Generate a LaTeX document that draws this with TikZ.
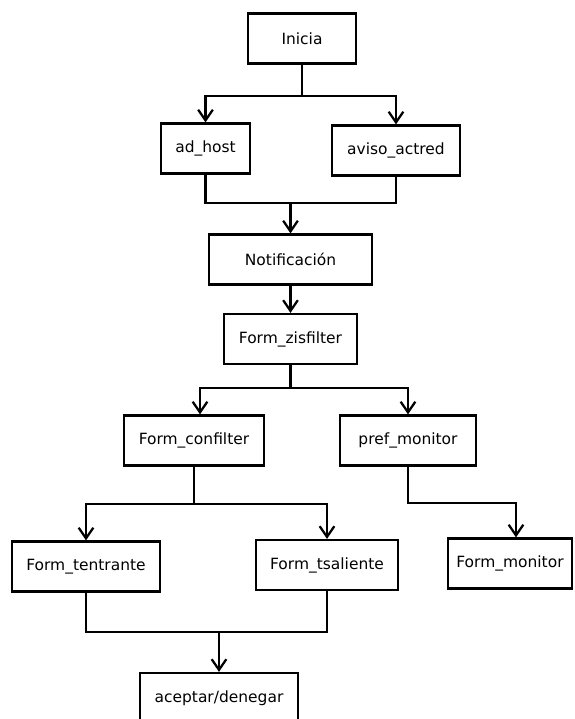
\documentclass[tikz,border=0pt]{standalone}
\usepackage{fontspec}
\setmainfont{DejaVu Sans}
\usetikzlibrary{arrows.meta}

\begin{document}
\begin{tikzpicture}[x=0.75pt,y=-0.75pt,
  caja/.style={draw, line width=1.7pt, minimum height=37.5pt, inner sep=0pt, font=\fontsize{11.6}{13}\selectfont},
  flecha/.style={-{Straight Barb[length=8pt,width=11pt]}, line width=1.7pt},
  linea/.style={line width=1.7pt}]
\useasboundingbox (0,0) rectangle (575,719);

\node (inicia) at (302,38.5) [caja, minimum width=81pt] {Inicia};
\node (adhost) at (205.5,148.5) [caja, minimum width=66.75pt] {ad\_host};
\node (aviso) at (396,150.5) [caja, minimum width=96pt] {aviso\_actred};
\node (notif) at (290.5,259.5) [caja, minimum width=122.25pt] {Notificación};
\node (zis) at (290.5,339) [caja, minimum width=99.75pt] {Form\_zisfilter};
\node (confilter) at (194,440.5) [caja, minimum width=105pt] {Form\_confilter};
\node (prefmon) at (408,440.5) [caja, minimum width=102pt] {pref\_monitor};
\node (tentrante) at (86,566.5) [caja, minimum width=111pt] {Form\_tentrante};
\node (tsaliente) at (327,565) [caja, minimum width=106.5pt] {Form\_tsaliente};
\node (formmon) at (510,563.5) [caja, minimum width=93pt] {Form\_monitor};
\node (aceptar) at (219,698) [caja, minimum width=118.5pt] {aceptar/denegar};

\coordinate (union1) at (290.5,203);
\coordinate (union3) at (219,632);

\draw[flecha] (inicia.south) -- ++(0,31) -| (adhost.north);
\draw[flecha] (inicia.south) -- ++(0,31) -| (aviso.north);
\draw[linea] (adhost.south) |- (union1) -| (aviso.south);
\draw[flecha] (union1) -- (notif.north);
\draw[flecha] (notif.south) -- (zis.north);
\draw[flecha] (zis.south) -- ++(0,23) -| ([xshift=4.5pt]confilter.north);
\draw[flecha] (zis.south) -- ++(0,23) -| (prefmon.north);
\draw[flecha] (confilter.south) -- ++(0,37) -| (tentrante.north);
\draw[flecha] (confilter.south) -- ++(0,37) -| (tsaliente.north);
\draw[flecha] (prefmon.south) -- ++(0,36) -| ([xshift=4.5pt]formmon.north);
\draw[linea] (tentrante.south) |- (union3) -| (tsaliente.south);
\draw[flecha] (union3) -- (aceptar.north);

\end{tikzpicture}
\end{document}
